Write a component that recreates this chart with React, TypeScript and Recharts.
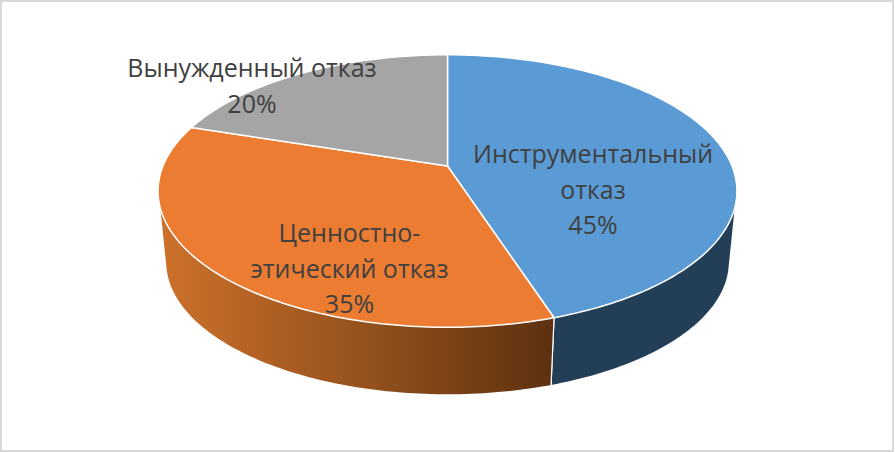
import React from 'react';
import { PieChart, Pie, Cell } from 'recharts';

const names = ['Инструментальный отказ', 'Ценностно-этический отказ', 'Вынужденный отказ'];
const shares = [45, 35, 20];
const labelLines = [
  ['Инструментальный', 'отказ'],
  ['Ценностно-', 'этический отказ'],
  ['Вынужденный отказ'],
];
const topColors = ['#5b9bd5', '#eb7c31', '#a5a5a5'];
const rows = names.map((name, i) => ({ name, value: shares[i] }));

const W = 894;
const H = 452;
const CX = 447.5;
const CY = 166;
const R = 284.5;
const PERSP = 0.1838;
const SQUASH = 0.4627;
const BOTTOM = { scale: 0.972, dy: 71.5 };
const TOP_SIDE = 107.6;
const BOTTOM_SIDE = 102.8;
const LABEL_X = [593, 349.5, 252];
const LABEL_Y = [163, 242, 77];
const LINE_H = 35.5;

type Pt = [number, number];

// Perspective projection of a point on the pie's rim; a is clockwise from 12 o'clock.
const rim = (cx: number, cy: number, r: number, a: number, scale = 1, dy = 0): Pt => {
  const rad = (a * Math.PI) / 180;
  const s = Math.sin(rad);
  const c = Math.cos(rad);
  const d = 1 + PERSP * c;
  return [cx + (r * scale * s) / d, cy + dy - (r * scale * SQUASH * c) / d];
};

const arc = (from: number, to: number, f: (a: number) => Pt): Pt[] => {
  const n = Math.max(2, Math.ceil(Math.abs(to - from)));
  const out: Pt[] = [];
  for (let i = 0; i <= n; i++) out.push(f(from + ((to - from) * i) / n));
  return out;
};

const toPath = (pts: Pt[]) =>
  'M' + pts.map((p) => `${p[0].toFixed(2)},${p[1].toFixed(2)}`).join('L') + 'Z';

const Slice = (props: any) => {
  const { cx, cy, outerRadius, startAngle, endAngle, fill } = props;
  const a0 = 90 - startAngle;
  const a1 = 90 - endAngle;
  const top = (a: number) => rim(cx, cy, outerRadius, a);
  const bot = (a: number) => rim(cx, cy, outerRadius, a, BOTTOM.scale, BOTTOM.dy);

  const topFrom = Math.max(a0, TOP_SIDE);
  const topTo = Math.min(a1, 360 - TOP_SIDE);
  const botFrom = a0 <= TOP_SIDE ? BOTTOM_SIDE : a0;
  const botTo = a1 >= 360 - TOP_SIDE ? 360 - BOTTOM_SIDE : a1;
  const hasWall = topTo > topFrom;
  const isBlue = fill === topColors[0];

  return (
    <g>
      {hasWall && (
        <>
          <defs>
            <linearGradient id="wallShade" gradientUnits="userSpaceOnUse" x1={160} x2={552} y1={0} y2={0}>
              <stop offset="0%" stopColor="#cd712b" />
              <stop offset="50%" stopColor="#97531d" />
              <stop offset="100%" stopColor="#5d3110" />
            </linearGradient>
          </defs>
          <path
            d={toPath([...arc(topFrom, topTo, top), ...arc(botTo, botFrom, bot)])}
            fill={isBlue ? '#233f58' : 'url(#wallShade)'}
          />
          <line
            x1={top(isBlue ? a1 : a0)[0]}
            y1={top(isBlue ? a1 : a0)[1]}
            x2={bot(isBlue ? a1 : a0)[0]}
            y2={bot(isBlue ? a1 : a0)[1]}
            stroke="#fff"
            strokeWidth={1.2}
          />
        </>
      )}
      <path
        d={toPath([[cx, cy], ...arc(a0, a1, top)])}
        fill={fill}
        stroke="#fff"
        strokeWidth={1.5}
        strokeLinejoin="round"
      />
    </g>
  );
};

const SliceLabel = (props: any) => {
  const { index, percent } = props;
  const lines = [...labelLines[index], `${Math.round(percent * 100)}%`];
  return (
    <text
      x={LABEL_X[index]}
      y={LABEL_Y[index]}
      textAnchor="middle"
      fill="#404040"
      fontFamily="'Open Sans', sans-serif"
      fontSize={25}
    >
      {lines.map((t, i) => (
        <tspan key={i} x={LABEL_X[index]} y={LABEL_Y[index] + i * LINE_H}>
          {t}
        </tspan>
      ))}
    </text>
  );
};

export default function App() {
  return (
    <div
      style={{
        position: 'absolute',
        left: 0,
        top: 0,
        width: W,
        height: H,
        boxSizing: 'border-box',
        border: '2px solid #d9d9d9',
        background: '#fff',
      }}
    >
      <div style={{ position: 'absolute', left: -2, top: -2 }}>
        <PieChart width={W} height={H} margin={{ top: 0, right: 0, bottom: 0, left: 0 }}>
          <Pie
            data={rows}
            dataKey="value"
            nameKey="name"
            cx={CX}
            cy={CY}
            innerRadius={0}
            outerRadius={R}
            startAngle={90}
            endAngle={-270}
            stroke="none"
            shape={Slice}
            label={SliceLabel}
            labelLine={false}
            isAnimationActive={false}
          >
            {rows.map((r, i) => (
              <Cell key={r.name} fill={topColors[i]} />
            ))}
          </Pie>
        </PieChart>
      </div>
    </div>
  );
}
